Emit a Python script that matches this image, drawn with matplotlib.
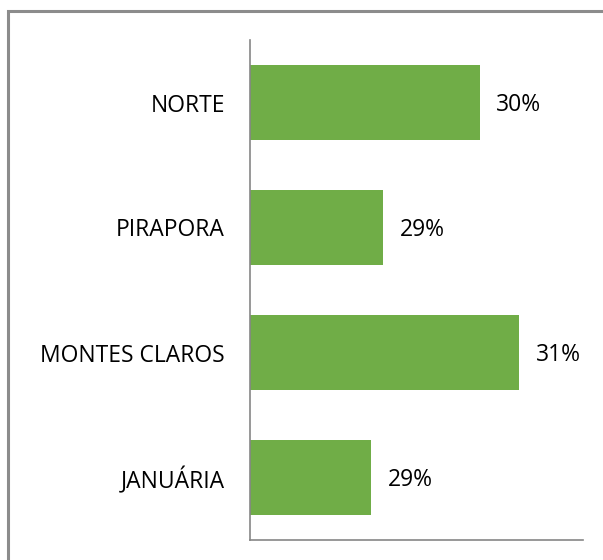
import matplotlib
matplotlib.use("Agg")
import matplotlib.pyplot as plt
from matplotlib.patches import Rectangle

# --- data (top to bottom as shown) ---
regions = ["NORTE", "PIRAPORA", "MONTES CLAROS", "JANUÁRIA"]
values = [30.26, 29.10, 30.73, 28.95]
labels = ["30%", "29%", "31%", "29%"]

plt.rcParams["font.family"] = ["Open Sans", "DejaVu Sans"]

fig = plt.figure(figsize=(6.03, 5.6), dpi=100)
ax = fig.add_axes([250/603, 20/560, 333/603, 500/560])

ypos = list(range(len(regions)))[::-1]
ax.barh(ypos, values, height=0.6, left=0, color="#70AD47")
ax.set_xlim(27.5, 31.5)
ax.set_ylim(-0.5, 3.5)

for y, v, lab in zip(ypos, values, labels):
    ax.annotate(lab, (v, y), xytext=(12, -2), textcoords="offset points",
                va="center", ha="left", fontsize=16.5, color="black")

ax.set_yticks(ypos)
ax.set_yticklabels(regions, fontsize=16.5)
ax.tick_params(axis="y", length=0, pad=18)
ax.set_xticks([])
for side in ["top", "right"]:
    ax.spines[side].set_visible(False)
for side in ["left", "bottom"]:
    ax.spines[side].set_color("#868686")
    ax.spines[side].set_linewidth(1.2)

# outer chart border
fig.patches.append(Rectangle((8/603, -0.1), 1.2, (560-11)/560 + 0.1,
                             transform=fig.transFigure, fill=False,
                             edgecolor="#8c8c8c", linewidth=2.2))

fig.savefig("out.png", dpi=100)
